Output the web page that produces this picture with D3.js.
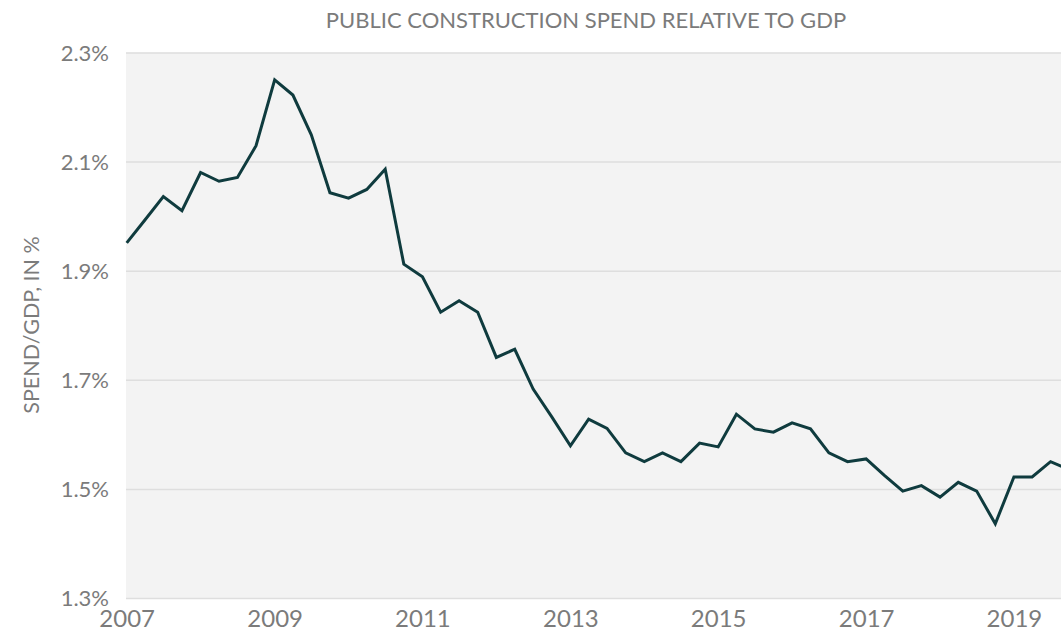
<!DOCTYPE html>
<html>
<head>
<meta charset="utf-8">
<script src="https://cdn.jsdelivr.net/npm/d3@7"></script>
<style>
  body { margin: 0; background: #fff; }
  text { font-family: Lato, "Open Sans", sans-serif; fill: #7b7b7b; }
</style>
</head>
<body>
<div id="chart"></div>
<script>
const W = 1061, H = 637;
const margin = { top: 52.5, right: 0, bottom: 39, left: 126 };

// quarterly series, 2007 Q1 .. 2019 Q4
const startYear = 2007;
const spendShare = [
  1.951, 1.993, 2.036, 2.010, 2.080, 2.064, 2.071, 2.129,
  2.250, 2.222, 2.149, 2.043, 2.033, 2.049, 2.086, 1.912,
  1.889, 1.824, 1.845, 1.824, 1.741, 1.756, 1.683, 1.632,
  1.579, 1.628, 1.611, 1.566, 1.550, 1.566, 1.550, 1.584,
  1.577, 1.637, 1.610, 1.604, 1.621, 1.610, 1.566, 1.550,
  1.555, 1.525, 1.496, 1.506, 1.485, 1.512, 1.496, 1.436,
  1.522, 1.522, 1.550, 1.535
];
const yTicks = [1.3, 1.5, 1.7, 1.9, 2.1, 2.3];
const xTickYears = [2007, 2009, 2011, 2013, 2015, 2017, 2019];

const data = spendShare.map(function (v, i) {
  return { date: new Date(startYear + Math.floor(i / 4), (i % 4) * 3, 1), value: v };
});

const svg = d3.select('#chart').append('svg')
  .attr('width', W)
  .attr('height', H);

// 18.48px per quarter, 51 steps
const x = d3.scaleTime()
  .domain([data[0].date, data[data.length - 1].date])
  .range([126.7, 126.7 + 51 * 18.48]);

const y = d3.scaleLinear()
  .domain([1.3, 2.3])
  .range([H - margin.bottom, margin.top]);

// plot background
svg.append('rect')
  .attr('x', margin.left)
  .attr('y', y(2.3))
  .attr('width', W - margin.left)
  .attr('height', y(1.3) - y(2.3))
  .style('fill', '#f3f3f3');

// gridlines + y labels
const yAxis = d3.axisLeft(y)
  .tickValues(yTicks)
  .tickSize(-(W - margin.left))
  .tickPadding(17)
  .tickFormat(function (d) { return d.toFixed(1) + '%'; });

const gy = svg.append('g')
  .attr('transform', 'translate(' + margin.left + ',0)')
  .call(yAxis);
gy.select('.domain').remove();
gy.selectAll('line').style('stroke', '#dedede').style('stroke-width', 1.5);
gy.selectAll('text')
  .style('font-size', '22px')
  .attr('dy', '0.36em');

// x labels
const xAxis = d3.axisBottom(x)
  .tickValues(xTickYears.map(function (yr) { return new Date(yr, 0, 1); }))
  .tickSize(0)
  .tickPadding(12)
  .tickFormat(d3.timeFormat('%Y'));

const gx = svg.append('g')
  .attr('transform', 'translate(0,' + y(1.3) + ')')
  .call(xAxis);
gx.select('.domain').remove();
gx.selectAll('text').style('font-size', '24px');

// line
const line = d3.line()
  .x(function (d) { return x(d.date); })
  .y(function (d) { return y(d.value); });

svg.append('path')
  .datum(data)
  .attr('d', line)
  .style('fill', 'none')
  .style('stroke', '#0f3b3e')
  .style('stroke-width', 3)
  .style('stroke-linejoin', 'miter');

// title
svg.append('text')
  .attr('x', 586)
  .attr('y', 28)
  .style('text-anchor', 'middle')
  .style('font-size', '22px')
  .text('PUBLIC CONSTRUCTION SPEND RELATIVE TO GDP');

// y axis title
svg.append('text')
  .attr('transform', 'translate(39,325) rotate(-90)')
  .style('text-anchor', 'middle')
  .style('font-size', '21.5px')
  .text('SPEND/GDP, IN %');
</script>
</body>
</html>
